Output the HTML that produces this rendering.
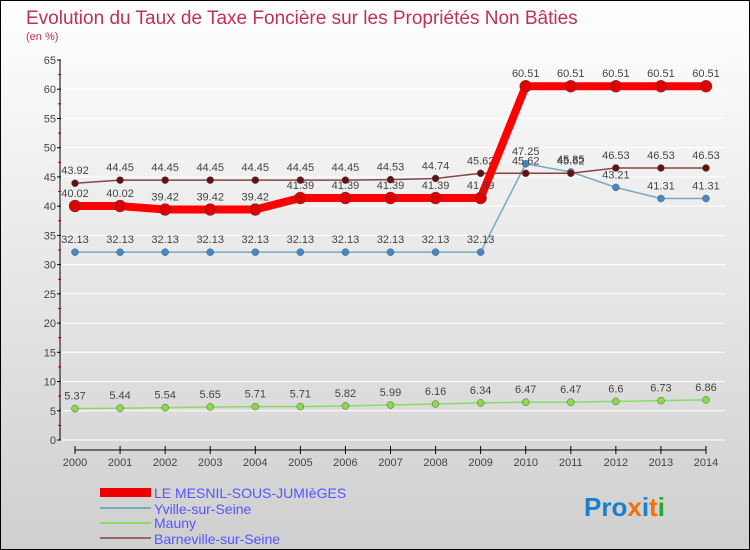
<!DOCTYPE html>
<html><head><meta charset="utf-8"><style>
body{margin:0}
#c{width:750px;height:550px;position:relative;box-sizing:border-box;border:1px solid #000;background:linear-gradient(#fff,#cfcfcf);font-family:"Liberation Sans",sans-serif;overflow:hidden}
</style></head><body>
<div id="c">
<svg id="s" width="750" height="550" style="position:absolute;left:-1px;top:-1px">
<text x="26" y="24" font-size="19" fill="#c0305a">Evolution du Taux de Taxe Foncière sur les Propriétés Non Bâties</text>
<text x="26" y="40" font-size="11" fill="#c0305a">(en %)</text>
<g id="grid"></g><g id="axes"></g><g id="series"></g>
<g>
<rect x="100" y="488" width="51" height="9" fill="#e00"/>
<text x="154" y="498" font-size="14" fill="#55f">LE MESNIL-SOUS-JUMIèGES</text>
<rect x="100" y="507" width="51" height="2" fill="#7ab"/>
<text x="154" y="514" font-size="14" fill="#55f">Yville-sur-Seine</text>
<rect x="100" y="522" width="51" height="2" fill="#8d6"/>
<text x="154" y="528" font-size="14" fill="#55f">Mauny</text>
<rect x="100" y="537" width="51" height="2" fill="#966"/>
<text x="154" y="544" font-size="14" fill="#55f">Barneville-sur-Seine</text>
</g>
<text x="584" y="516" font-size="26" font-weight="bold"><tspan fill="#1a7fd0">Pro</tspan><tspan fill="#f07010">x</tspan><tspan fill="#1a7fd0">i</tspan><tspan fill="#f07010">t</tspan><tspan fill="#2a2">i</tspan></text>
</svg>
</div>
<script>
const years=[2000,2001,2002,2003,2004,2005,2006,2007,2008,2009,2010,2011,2012,2013,2014];
const yTicks=[0,5,10,15,20,25,30,35,40,45,50,55,60,65];
const mesnil=[40.02,40.02,39.42,39.42,39.42,41.39,41.39,41.39,41.39,41.39,60.51,60.51,60.51,60.51,60.51];
const yville=[32.13,32.13,32.13,32.13,32.13,32.13,32.13,32.13,32.13,32.13,47.25,45.85,43.21,41.31,41.31];
const mauny=[5.37,5.44,5.54,5.65,5.71,5.71,5.82,5.99,6.16,6.34,6.47,6.47,6.6,6.73,6.86];
const barneville=[43.92,44.45,44.45,44.45,44.45,44.45,44.45,44.53,44.74,45.62,45.62,45.62,46.53,46.53,46.53];
const NS='http://www.w3.org/2000/svg';
const X=i=>75+i*(706-75)/14;
const Y=v=>440-v*380/65;
function mk(t,a,p){const e=document.createElementNS(NS,t);for(const k in a)e.setAttribute(k,a[k]);p.appendChild(e);return e;}
const grid=document.getElementById('grid'),axes=document.getElementById('axes'),ser=document.getElementById('series');
yTicks.forEach(v=>{
 const l=mk('line',{x1:60,x2:725,y1:Y(v),y2:Y(v),stroke:'#fff','stroke-width':1},grid);
 
 
 mk('line',{x1:57,x2:61,y1:Y(v),y2:Y(v),stroke:'#000'},axes);
 if(v<65){mk('line',{x1:58,x2:61,y1:Y(v+2.5),y2:Y(v+2.5),stroke:'#e00'},axes);}
 const t=mk('text',{x:56,y:Y(v)+4,'text-anchor':'end','font-size':11,fill:'#444'},axes);
 t.textContent=v;
 
 
});
mk('line',{x1:60,x2:60,y1:Y(65),y2:Y(0),stroke:'#000'},axes);
mk('line',{x1:75,x2:706,y1:450,y2:450,stroke:'#000'},axes);
years.forEach((yr,i)=>{
 mk('line',{x1:X(i),x2:X(i),y1:446,y2:454,stroke:'#000'},axes);
 const t=mk('text',{x:X(i),y:466,'text-anchor':'middle','font-size':11,fill:'#444'},axes);
 t.textContent=yr;
 
 
});
function draw(name,data,color,w,r,dot,lab){
 const g=mk('g',{},ser);
 
 
 const p=mk('polyline',{points:data.map((v,i)=>X(i)+','+Y(v)).join(' '),fill:'none',stroke:color,'stroke-width':w,'stroke-linejoin':'round'},g);
 
 
 data.forEach((v,i)=>{
  const c=mk('circle',{cx:X(i),cy:Y(v),r:r,fill:dot,stroke:'#555','stroke-width':0.5},g);
  
  
  const t=mk('text',{x:X(i),y:Y(v)-9,'text-anchor':'middle','font-size':11,fill:'#444'},g);
  t.textContent=v;
  
  
 });
}
draw('mauny',mauny,'#8d6',1.5,3.5,'#8d4');
draw('yville',yville,'#7ab',1.5,3.5,'#48c');
draw('barneville',barneville,'#844',1.5,3.5,'#611');
draw('mesnil',mesnil,'#f00',8,6,'#d00');
</script>
</body></html>
